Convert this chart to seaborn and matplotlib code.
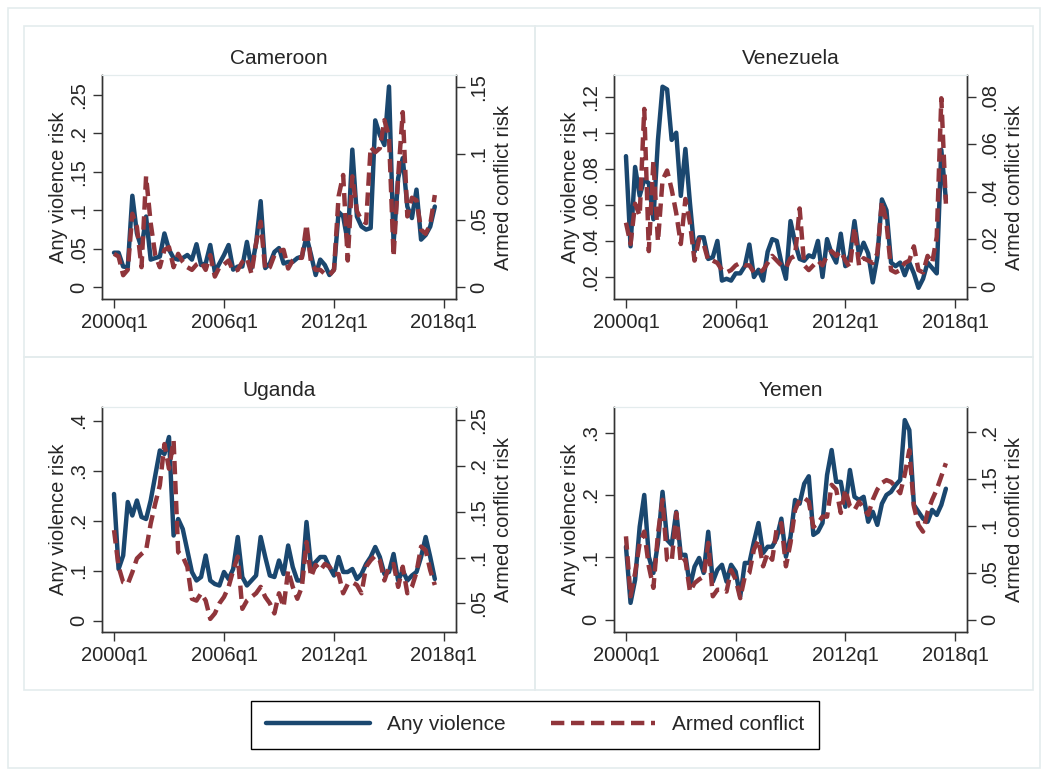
import numpy as np
import seaborn as sns
import matplotlib.pyplot as plt
from matplotlib.patches import Rectangle

# quarterly series, 2000q1 .. 2017q3 (index 0 = 2000q1)
quarter = list(range(71))
xtick_pos = [0, 24, 48, 72]
xtick_labels = ["2000q1", "2006q1", "2012q1", "2018q1"]

cameroon_any = [0.045, 0.045, 0.027, 0.026, 0.119, 0.070, 0.051, 0.092, 0.036, 0.038,
                0.040, 0.070, 0.049, 0.038, 0.036, 0.038, 0.042, 0.036, 0.056, 0.029,
                0.031, 0.055, 0.020, 0.031, 0.042, 0.055, 0.023, 0.027, 0.027, 0.059,
                0.025, 0.057, 0.112, 0.025, 0.031, 0.046, 0.051, 0.031, 0.033, 0.033,
                0.038, 0.040, 0.066, 0.042, 0.016, 0.036, 0.029, 0.016, 0.023, 0.098,
                0.092, 0.059, 0.179, 0.092, 0.079, 0.075, 0.077, 0.217, 0.198, 0.185,
                0.261, 0.057, 0.142, 0.168, 0.105, 0.090, 0.127, 0.062, 0.068, 0.079,
                0.105]
cameroon_armed = [0.025, 0.023, 0.009, 0.013, 0.055, 0.045, 0.015, 0.083, 0.048, 0.024,
                  0.015, 0.028, 0.030, 0.015, 0.025, 0.019, 0.015, 0.013, 0.017, 0.019,
                  0.013, 0.024, 0.008, 0.015, 0.017, 0.020, 0.012, 0.013, 0.019, 0.022,
                  0.010, 0.033, 0.049, 0.013, 0.015, 0.024, 0.027, 0.028, 0.014, 0.020,
                  0.022, 0.022, 0.047, 0.018, 0.013, 0.013, 0.010, 0.009, 0.013, 0.068,
                  0.084, 0.020, 0.083, 0.057, 0.050, 0.048, 0.105, 0.101, 0.104, 0.125,
                  0.113, 0.023, 0.083, 0.131, 0.053, 0.067, 0.065, 0.043, 0.040, 0.047,
                  0.069]

venezuela_any = [0.087, 0.037, 0.081, 0.065, 0.074, 0.072, 0.052, 0.096, 0.1255, 0.124,
                 0.096, 0.100, 0.065, 0.091, 0.061, 0.034, 0.042, 0.042, 0.030, 0.031,
                 0.040, 0.018, 0.019, 0.018, 0.022, 0.022, 0.026, 0.038, 0.020, 0.024,
                 0.018, 0.034, 0.041, 0.040, 0.028, 0.019, 0.051, 0.039, 0.030, 0.029,
                 0.032, 0.031, 0.040, 0.020, 0.041, 0.033, 0.028, 0.044, 0.026, 0.032,
                 0.051, 0.032, 0.039, 0.033, 0.017, 0.031, 0.063, 0.057, 0.028, 0.026,
                 0.028, 0.021, 0.028, 0.022, 0.014, 0.019, 0.028, 0.025, 0.022, 0.0905,
                 0.063]
venezuela_armed = [0.027, 0.018, 0.035, 0.030, 0.075, 0.015, 0.053, 0.019, 0.045, 0.049,
                   0.041, 0.031, 0.018, 0.037, 0.027, 0.011, 0.020, 0.018, 0.011, 0.011,
                   0.010, 0.007, 0.006, 0.007, 0.009, 0.010, 0.009, 0.009, 0.006, 0.006,
                   0.007, 0.010, 0.013, 0.011, 0.009, 0.008, 0.012, 0.013, 0.033, 0.009,
                   0.007, 0.009, 0.011, 0.009, 0.013, 0.015, 0.013, 0.015, 0.011, 0.008,
                   0.025, 0.009, 0.012, 0.011, 0.010, 0.014, 0.036, 0.027, 0.007, 0.006,
                   0.007, 0.010, 0.011, 0.017, 0.007, 0.006, 0.013, 0.010, 0.021, 0.0795,
                   0.035]

uganda_any = [0.253, 0.103, 0.130, 0.237, 0.210, 0.240, 0.207, 0.203, 0.240, 0.290,
              0.340, 0.333, 0.367, 0.170, 0.203, 0.183, 0.140, 0.097, 0.080, 0.087,
              0.130, 0.080, 0.073, 0.070, 0.097, 0.083, 0.103, 0.167, 0.087, 0.070,
              0.080, 0.090, 0.167, 0.127, 0.090, 0.087, 0.120, 0.093, 0.150, 0.107,
              0.080, 0.080, 0.197, 0.107, 0.117, 0.127, 0.127, 0.107, 0.090, 0.127,
              0.097, 0.097, 0.103, 0.083, 0.093, 0.113, 0.127, 0.147, 0.127, 0.093,
              0.097, 0.133, 0.080, 0.100, 0.080, 0.090, 0.097, 0.127, 0.167, 0.127,
              0.083]
uganda_armed = [0.130, 0.090, 0.073, 0.071, 0.084, 0.099, 0.104, 0.108, 0.137, 0.159,
                0.179, 0.224, 0.197, 0.228, 0.106, 0.101, 0.090, 0.055, 0.053, 0.061,
                0.053, 0.033, 0.039, 0.050, 0.057, 0.068, 0.086, 0.101, 0.044, 0.053,
                0.057, 0.061, 0.068, 0.057, 0.050, 0.039, 0.061, 0.046, 0.086, 0.068,
                0.055, 0.068, 0.117, 0.079, 0.092, 0.086, 0.093, 0.090, 0.082, 0.082,
                0.061, 0.071, 0.073, 0.070, 0.061, 0.090, 0.097, 0.102, 0.097, 0.075,
                0.090, 0.093, 0.068, 0.090, 0.061, 0.068, 0.084, 0.112, 0.108, 0.086,
                0.070]

yemen_any = [0.117, 0.027, 0.064, 0.149, 0.200, 0.101, 0.075, 0.123, 0.205, 0.128,
             0.120, 0.173, 0.104, 0.104, 0.053, 0.085, 0.099, 0.075, 0.141, 0.061,
             0.080, 0.088, 0.061, 0.088, 0.077, 0.037, 0.091, 0.091, 0.125, 0.155,
             0.107, 0.117, 0.117, 0.131, 0.162, 0.101, 0.133, 0.192, 0.186, 0.218,
             0.230, 0.136, 0.141, 0.155, 0.232, 0.272, 0.221, 0.221, 0.181, 0.240,
             0.197, 0.192, 0.197, 0.157, 0.173, 0.152, 0.186, 0.200, 0.205, 0.216,
             0.224, 0.320, 0.304, 0.184, 0.173, 0.162, 0.157, 0.176, 0.168, 0.184,
             0.210]
yemen_armed = [0.089, 0.025, 0.050, 0.082, 0.094, 0.057, 0.034, 0.092, 0.128, 0.064,
               0.062, 0.114, 0.060, 0.064, 0.030, 0.039, 0.043, 0.046, 0.082, 0.025,
               0.032, 0.032, 0.030, 0.053, 0.043, 0.023, 0.046, 0.050, 0.075, 0.085,
               0.057, 0.071, 0.064, 0.098, 0.103, 0.057, 0.082, 0.117, 0.128, 0.130,
               0.126, 0.099, 0.103, 0.110, 0.110, 0.144, 0.139, 0.114, 0.139, 0.121,
               0.117, 0.126, 0.119, 0.112, 0.128, 0.139, 0.146, 0.149, 0.147, 0.142,
               0.135, 0.155, 0.181, 0.121, 0.101, 0.094, 0.115, 0.128, 0.139, 0.153,
               0.167]

countries = ["Cameroon", "Venezuela", "Uganda", "Yemen"]
any_series = [cameroon_any, venezuela_any, uganda_any, yemen_any]
armed_series = [cameroon_armed, venezuela_armed, uganda_armed, yemen_armed]
left_ticks = [[0, 0.05, 0.1, 0.15, 0.2, 0.25],
              [0.02, 0.04, 0.06, 0.08, 0.1, 0.12],
              [0, 0.1, 0.2, 0.3, 0.4],
              [0, 0.1, 0.2, 0.3]]
right_ticks = [[0, 0.05, 0.1, 0.15],
               [0, 0.02, 0.04, 0.06, 0.08],
               [0.05, 0.1, 0.15, 0.2, 0.25],
               [0, 0.05, 0.1, 0.15, 0.2]]
left_lims = [(-0.0152, 0.276), (0.0078, 0.132), (-0.023, 0.427), (-0.0197, 0.341)]
right_lims = [(-0.0088, 0.1588), (-0.0052, 0.0893), (0.0187, 0.2645), (-0.0131, 0.227)]

BLUE = "#1a476f"
RED = "#90353b"
BORDER = "#e4eced"


def stata_fmt(v):
    s = ("%g" % v)
    return s.replace("0.", ".") if s.startswith("0.") else s


sns.set_style("white")
plt.rcParams["font.family"] = ["Liberation Sans", "DejaVu Sans"]

W, H = 1047, 770
fig = plt.figure(figsize=(W / 100, H / 100), dpi=100)

# light Stata-like frames
fig.patches.append(Rectangle((8 / W, 1 - 768 / H), 1032 / W, 760 / H, transform=fig.transFigure,
                             fill=False, edgecolor=BORDER, lw=1.2))
for (x0, y0, x1, y1) in [(24, 26, 535, 357), (535, 26, 1033, 357),
                         (24, 357, 535, 690), (535, 357, 1033, 690)]:
    fig.patches.append(Rectangle((x0 / W, 1 - y1 / H), (x1 - x0) / W, (y1 - y0) / H,
                                 transform=fig.transFigure, fill=False,
                                 edgecolor=BORDER, lw=1.2))

# axes boxes in pixels: left, top, right, bottom
boxes = [(102, 75, 456, 299), (614, 75, 967, 299),
         (102, 407, 456, 632), (614, 407, 967, 632)]

handles = []
for k, name in enumerate(countries):
    l, t, r, b = boxes[k]
    ax = fig.add_axes([l / W, 1 - b / H, (r - l) / W, (b - t) / H])
    ax2 = ax.twinx()

    sns.lineplot(x=quarter, y=any_series[k], ax=ax, color=BLUE, lw=3.2, legend=False)
    sns.lineplot(x=quarter, y=armed_series[k], ax=ax2, color=RED, lw=3.2,
                 linestyle=(0, (3.0, 1.5)), legend=False)

    ax.set_xlim(-2.62, 74.62)
    ax.set_ylim(*left_lims[k])
    ax2.set_ylim(*right_lims[k])

    ax.set_xticks(xtick_pos)
    ax.set_xticklabels(xtick_labels)
    ax.set_yticks(left_ticks[k])
    ax.set_yticklabels([stata_fmt(v) for v in left_ticks[k]], rotation=90, va="center")
    ax2.set_yticks(right_ticks[k])
    ax2.set_yticklabels([stata_fmt(v) for v in right_ticks[k]], rotation=90, va="center")

    for a in (ax, ax2):
        a.tick_params(axis="both", which="major", length=6.3, width=1, color="#333333",
                      labelsize=14.5, pad=3.5)
        for side in ("left", "right", "bottom"):
            a.spines[side].set_color("#333333")
            a.spines[side].set_linewidth(1)
        a.spines["top"].set_color(BORDER)
    ax.tick_params(axis="x", bottom=True)
    ax.tick_params(axis="y", left=True)
    ax2.tick_params(axis="y", right=True)

    ax.set_ylabel("Any violence risk", fontsize=14.5, labelpad=1)
    ax2.set_ylabel("Armed conflict risk", fontsize=14.5, labelpad=4)
    ax.set_xlabel("")
    ax.set_title(name, fontsize=15, pad=8)

    if k == 0:
        handles = [ax.lines[0], ax2.lines[0]]

fig.legend(handles, ["Any violence", "Armed conflict"], loc="center",
           bbox_to_anchor=(535 / W, 1 - 725 / H), ncol=2, fontsize=15,
           frameon=True, fancybox=False, edgecolor="black", framealpha=1,
           handlelength=5, handletextpad=0.8, columnspacing=2.2,
           borderpad=0.7)
fig.legends[0].get_frame().set_linewidth(1)

plt.savefig("out.png", dpi=100, facecolor="white")
